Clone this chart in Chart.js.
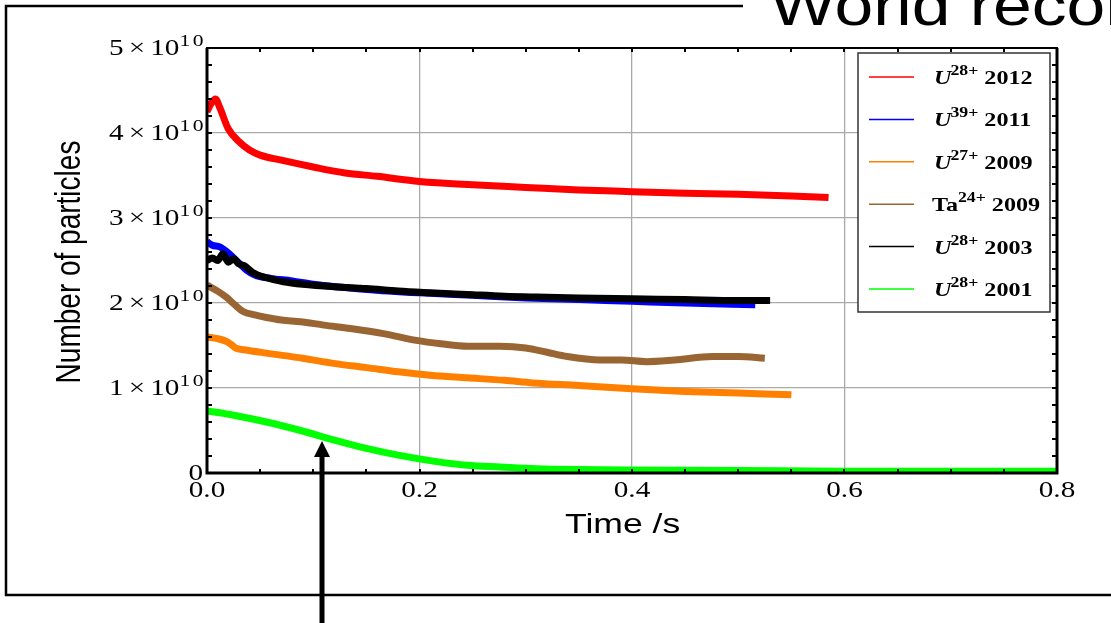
<!DOCTYPE html>
<html>
<head>
<meta charset="utf-8">
<script src="https://cdn.jsdelivr.net/npm/chart.js@4"></script>
<style>
  html, body { margin: 0; padding: 0; background: #fff; }
  #wrap { width: 1111px; height: 623px; }
</style>
</head>
<body>
<div id="wrap"><canvas id="myChart" width="1111" height="623"></canvas></div>
<script>

// particle numbers are in units of 1e10, time in seconds
var UNIT = 1e10;

var ions = ['U', 'U', 'U', 'Ta', 'U', 'U'];
var charges = ['28+', '39+', '27+', '24+', '28+', '28+'];
var years = ['2012', '2011', '2009', '2009', '2003', '2001'];
var colors = ['#ff0000', '#0000ff', '#ff8000', '#996633', '#000000', '#00ff00'];

var tU28_2012 = [0, 0.004, 0.008, 0.012, 0.02, 0.03, 0.04, 0.05, 0.07, 0.1, 0.13, 0.16, 0.2, 0.25, 0.3, 0.35, 0.4, 0.45, 0.5, 0.55, 0.585];
var nU28_2012 = [4.25, 4.35, 4.4, 4.3, 4.05, 3.9, 3.8, 3.74, 3.68, 3.6, 3.53, 3.49, 3.43, 3.39, 3.36, 3.33, 3.31, 3.29, 3.28, 3.26, 3.24];

var tU39_2011 = [0, 0.005, 0.012, 0.02, 0.03, 0.037, 0.045, 0.06, 0.08, 0.1, 0.15, 0.2, 0.25, 0.3, 0.35, 0.4, 0.45, 0.516];
var nU39_2011 = [2.72, 2.68, 2.66, 2.59, 2.47, 2.39, 2.33, 2.29, 2.26, 2.22, 2.16, 2.12, 2.09, 2.06, 2.04, 2.02, 2.0, 1.98];

var tU27_2009 = [0, 0.01, 0.018, 0.022, 0.027, 0.035, 0.056, 0.09, 0.119, 0.15, 0.18, 0.21, 0.245, 0.28, 0.307, 0.35, 0.4, 0.45, 0.5, 0.55];
var nU27_2009 = [1.6, 1.58, 1.55, 1.52, 1.47, 1.45, 1.41, 1.35, 1.29, 1.24, 1.19, 1.15, 1.12, 1.09, 1.06, 1.03, 0.99, 0.96, 0.94, 0.92];

var tTa24_2009 = [0, 0.01, 0.018, 0.026, 0.034, 0.045, 0.056, 0.07, 0.088, 0.11, 0.135, 0.166, 0.197, 0.22, 0.245, 0.276, 0.3, 0.32, 0.339, 0.37, 0.39, 0.414, 0.44, 0.476, 0.5, 0.525];
var nTa24_2009 = [2.21, 2.14, 2.07, 1.98, 1.9, 1.86, 1.83, 1.8, 1.78, 1.74, 1.7, 1.64, 1.56, 1.52, 1.49, 1.49, 1.47, 1.42, 1.37, 1.33, 1.33, 1.31, 1.33, 1.37, 1.37, 1.35];

var tU28_2003 = [0, 0.005, 0.01, 0.015, 0.02, 0.025, 0.03, 0.035, 0.043, 0.055, 0.072, 0.09, 0.12, 0.15, 0.18, 0.21, 0.245, 0.28, 0.31, 0.35, 0.4, 0.45, 0.5, 0.53];
var nU28_2003 = [2.5, 2.53, 2.5, 2.58, 2.48, 2.52, 2.46, 2.44, 2.36, 2.3, 2.25, 2.22, 2.19, 2.17, 2.14, 2.12, 2.1, 2.08, 2.07, 2.06, 2.05, 2.04, 2.03, 2.03];

var tU28_2001 = [0, 0.025, 0.056, 0.088, 0.119, 0.15, 0.18, 0.213, 0.245, 0.276, 0.31, 0.35, 0.4, 0.5, 0.6, 0.7, 0.8];
var nU28_2001 = [0.73, 0.68, 0.6, 0.5, 0.39, 0.29, 0.21, 0.14, 0.09, 0.07, 0.05, 0.04, 0.035, 0.03, 0.02, 0.02, 0.02];

var xTicks = [0, 0.2, 0.4, 0.6, 0.8];
var xTickLabels = ['0.0', '0.2', '0.4', '0.6', '0.8'];
var yTicks = [0, 1, 2, 3, 4, 5];
var arrowTime = 0.108;

// the original picture is stretched sideways a bit
var SX = 1.27;

function toPoints(t, n) {
    var pts = [];
    for (var i = 0; i < t.length; i++) {
        pts.push({ x: t[i], y: n[i] * UNIT });
    }
    return pts;
}

function sText(ctx, txt, x, y, font, align, sx) {
    ctx.save();
    ctx.font = font;
    ctx.textAlign = align || 'left';
    ctx.textBaseline = 'alphabetic';
    ctx.translate(x, y);
    ctx.scale(sx || SX, 1);
    ctx.fillText(txt, 0, 0);
    ctx.restore();
}

function sWidth(ctx, txt, font) {
    ctx.save();
    ctx.font = font;
    var w = ctx.measureText(txt).width * SX;
    ctx.restore();
    return w;
}

var SERIF = '"Liberation Serif", "Times New Roman", serif';
var SANS = '"Liberation Sans", Arial, sans-serif';

var framePlugin = {
    id: 'frame',
    afterDatasetsDraw: function (chart) {
        var ctx = chart.ctx;
        var a = chart.chartArea;
        var xs = chart.scales.x, ys = chart.scales.y;
        ctx.save();
        ctx.strokeStyle = '#000';
        ctx.lineCap = 'butt';

        // inward ticks on all four sides
        ctx.lineWidth = 2;
        ctx.beginPath();
        for (var v = 0.05; v < 0.8; v += 0.05) {
            var px = Math.round(xs.getPixelForValue(v));
            ctx.moveTo(px, a.bottom); ctx.lineTo(px, a.bottom - 4);
            ctx.moveTo(px, a.top); ctx.lineTo(px, a.top + 4);
        }
        for (var k = 1; k < 25; k++) {
            var py = Math.round(ys.getPixelForValue(k * 0.2 * UNIT));
            ctx.moveTo(a.left, py); ctx.lineTo(a.left + 5, py);
            ctx.moveTo(a.right, py); ctx.lineTo(a.right - 5, py);
        }
        ctx.stroke();

        // frame
        ctx.lineWidth = 3;
        ctx.beginPath();
        ctx.moveTo(a.left, a.top);
        ctx.lineTo(a.left, a.bottom);
        ctx.lineTo(a.right, a.bottom);
        ctx.lineTo(a.right, a.top);
        ctx.stroke();
        ctx.lineWidth = 2;
        ctx.beginPath();
        ctx.moveTo(a.left - 1, a.top);
        ctx.lineTo(a.right + 1, a.top);
        ctx.stroke();
        ctx.restore();
    },
    afterDraw: function (chart) {
        var ctx = chart.ctx;
        var a = chart.chartArea;
        var xs = chart.scales.x, ys = chart.scales.y;
        ctx.save();
        ctx.fillStyle = '#000';

        // x tick labels
        var tickFont = '23px ' + SERIF;
        var supFont = '17px ' + SERIF;
        for (var i = 0; i < xTicks.length; i++) {
            sText(ctx, xTickLabels[i], xs.getPixelForValue(xTicks[i]), a.bottom + 24, tickFont, 'center');
        }

        // y tick labels, Mathematica style  m x 10^10
        for (var j = 0; j < yTicks.length; j++) {
            var py = ys.getPixelForValue(yTicks[j] * UNIT);
            var right = a.left - 4;
            if (yTicks[j] === 0) {
                sText(ctx, '0', right, py + 7, tickFont, 'right');
                continue;
            }
            var gap = 5;
            var wm = sWidth(ctx, String(yTicks[j]), tickFont);
            var wx = sWidth(ctx, '\u00d7', tickFont);
            var wt = sWidth(ctx, '10', tickFont);
            var ws = sWidth(ctx, '10', supFont) + 2;
            var x0 = right - ws - wt - gap - wx - gap - wm;
            sText(ctx, String(yTicks[j]), x0, py + 7, tickFont);
            sText(ctx, '\u00d7', x0 + wm + gap, py + 7, tickFont);
            sText(ctx, '10', x0 + wm + gap + wx + gap, py + 7, tickFont);
            ctx.save();
            ctx.letterSpacing = '2px';
            sText(ctx, '10', x0 + wm + gap + wx + gap + wt, py - 2, supFont);
            ctx.restore();
        }

        // axis titles
        sText(ctx, 'Time /s', 565, 533, '28px ' + SANS);
        ctx.save();
        ctx.font = '28px ' + SANS;
        ctx.textAlign = 'center';
        ctx.translate(80, 262);
        ctx.scale(SX, 1);
        ctx.rotate(-Math.PI / 2);
        ctx.fillText('Number of particles', 0, 0);
        ctx.restore();

        // legend box
        var lx = 858, ly = 53, lw = 192, lh = 259;
        ctx.fillStyle = '#fff';
        ctx.fillRect(lx, ly, lw, lh);
        ctx.strokeStyle = '#333';
        ctx.lineWidth = 1.5;
        ctx.strokeRect(lx, ly, lw, lh);
        var ds = chart.data.datasets;
        var legFont = 'bold 19px ' + SERIF;
        var legItal = 'italic bold 19px ' + SERIF;
        var legSup = 'bold 14px ' + SERIF;
        for (var r = 0; r < ds.length; r++) {
            var ry = 77 + r * 42.4;
            ctx.strokeStyle = ds[r].borderColor;
            ctx.lineWidth = 1.5;
            ctx.beginPath();
            ctx.moveTo(869, ry);
            ctx.lineTo(914, ry);
            ctx.stroke();
            ctx.fillStyle = '#000';
            var tx = ions[r] === 'U' ? 934 : 932;
            var f = ions[r] === 'U' ? legItal : legFont;
            sText(ctx, ions[r], tx, ry + 7, f);
            tx += sWidth(ctx, ions[r], f) - (ions[r] === 'U' ? 1 : 0);
            sText(ctx, charges[r], tx, ry - 2, legSup);
            tx += sWidth(ctx, charges[r], legSup) + 6;
            sText(ctx, years[r], tx, ry + 7, legFont);
        }

        // outer frame of the slide picture
        ctx.strokeStyle = '#000';
        ctx.lineWidth = 2.5;
        ctx.beginPath();
        ctx.moveTo(743, 6);
        ctx.lineTo(6, 6);
        ctx.lineTo(6, 595);
        ctx.lineTo(1111, 595);
        ctx.stroke();

        // heading text, cut by the top edge
        ctx.fillStyle = '#000';
        sText(ctx, 'World record', 770, 25, '58px ' + SANS, 'left', 1.2);

        // arrow pointing at the 2001 curve
        var ax = Math.round(xs.getPixelForValue(arrowTime));
        ctx.fillStyle = '#000';
        ctx.fillRect(ax - 2.5, 455, 5, 623 - 455);
        ctx.beginPath();
        ctx.moveTo(ax - 8, 457);
        ctx.lineTo(ax + 8, 457);
        ctx.lineTo(ax, 441);
        ctx.closePath();
        ctx.fill();

        ctx.restore();
    }
};

var ctx = document.getElementById('myChart');

var data = {
    datasets: [
        { label: 'U28+ 2012', data: toPoints(tU28_2012, nU28_2012), borderColor: colors[0], order: 0 },
        { label: 'U39+ 2011', data: toPoints(tU39_2011, nU39_2011), borderColor: colors[1], order: 2 },
        { label: 'U27+ 2009', data: toPoints(tU27_2009, nU27_2009), borderColor: colors[2], order: 0 },
        { label: 'Ta24+ 2009', data: toPoints(tTa24_2009, nTa24_2009), borderColor: colors[3], order: 0 },
        { label: 'U28+ 2003', data: toPoints(tU28_2003, nU28_2003), borderColor: colors[4], order: 1 },
        { label: 'U28+ 2001', data: toPoints(tU28_2001, nU28_2001), borderColor: colors[5], order: 0 }
    ]
};

var gridOpts = { color: '#aaaaaa', lineWidth: 1.3, drawTicks: false };

var options = {
    responsive: false,
    animation: false,
    devicePixelRatio: 1,
    layout: { padding: { left: 207, top: 48, right: 54, bottom: 150 } },
    plugins: { legend: { display: false }, tooltip: { enabled: false } },
    elements: {
        point: { radius: 0 },
        line: { borderWidth: 7, cubicInterpolationMode: 'monotone', fill: false, borderCapStyle: 'butt', borderJoinStyle: 'round' }
    },
    scales: {
        x: {
            type: 'linear', min: 0, max: 0.8,
            ticks: { display: false, stepSize: 0.2 },
            grid: gridOpts,
            border: { display: false }
        },
        y: {
            type: 'linear', min: 0, max: 5 * UNIT,
            ticks: { display: false, stepSize: UNIT },
            grid: gridOpts,
            border: { display: false }
        }
    }
};

var chart = new Chart(ctx, {
    type: 'line',
    data: data,
    options: options,
    plugins: [framePlugin]
});
</script>
</body>
</html>
